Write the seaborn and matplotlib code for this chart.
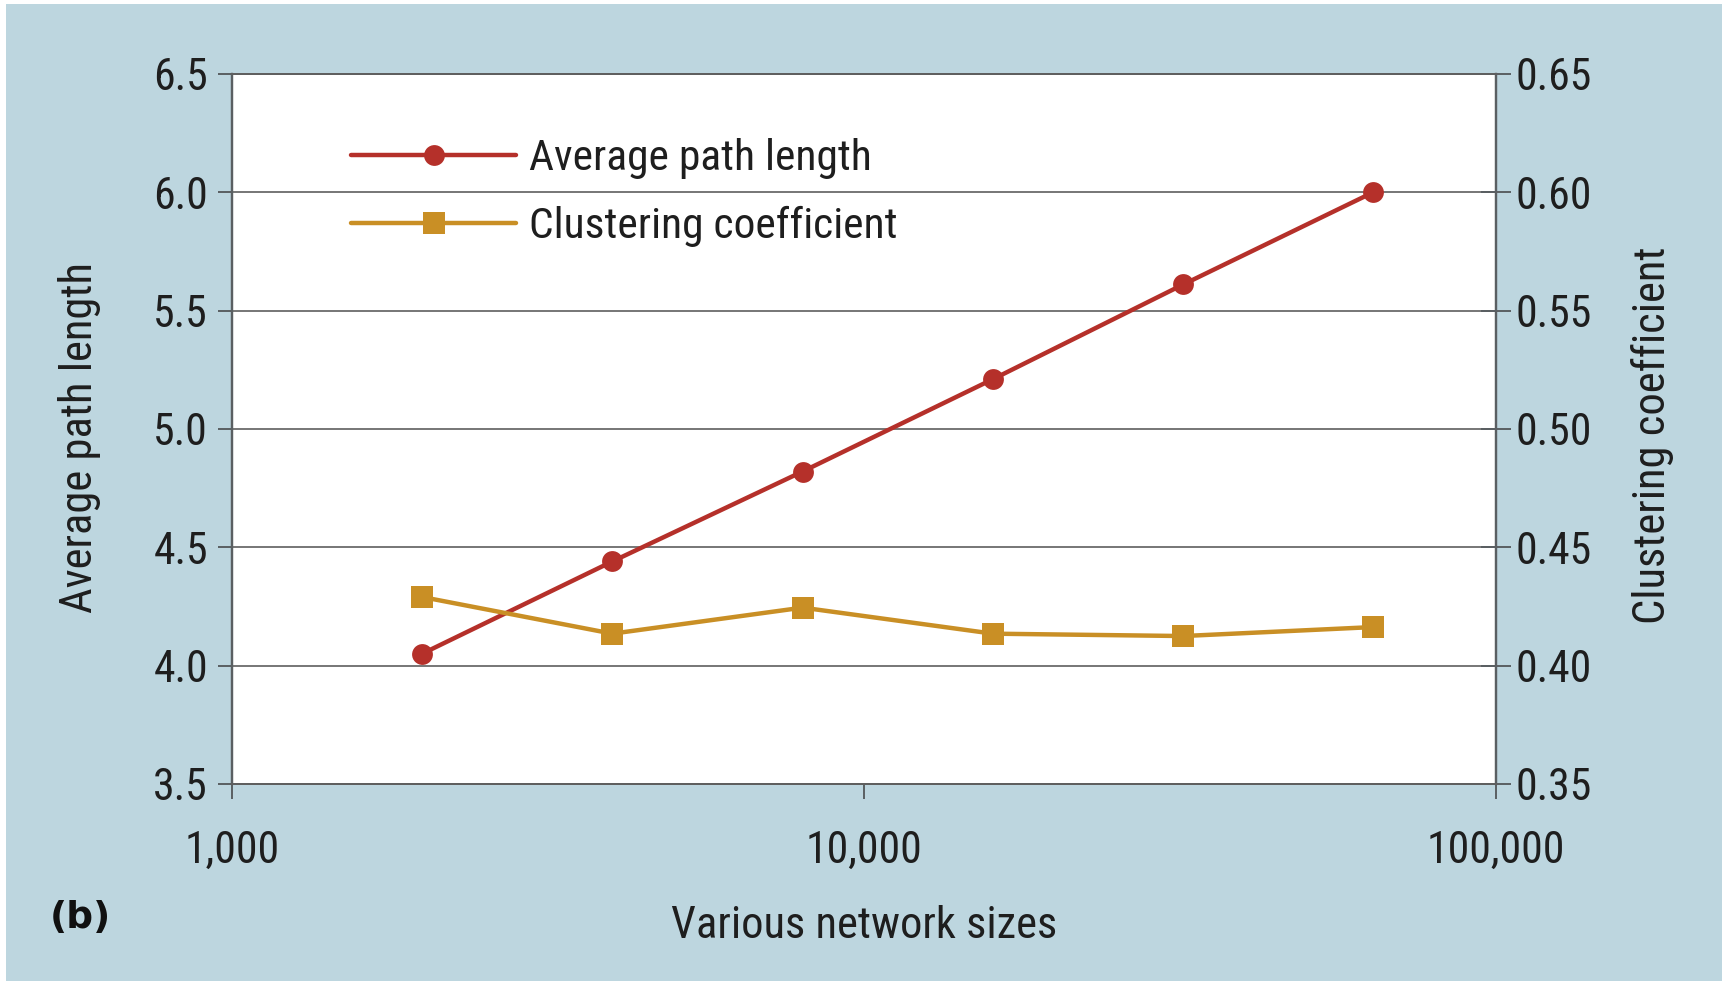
import matplotlib
matplotlib.use("Agg")
import matplotlib.pyplot as plt
from matplotlib import font_manager
from matplotlib.patches import Rectangle
from matplotlib.ticker import FixedLocator, FuncFormatter
import pandas as pd
import seaborn as sns

# Network sizes and the measured metrics
network_sizes = [2000, 4000, 8000, 16000, 32000, 64000]
avg_path_length = [4.05, 4.44, 4.82, 5.21, 5.61, 6.00]
clustering_coef = [0.429, 0.4135, 0.4245, 0.4135, 0.4125, 0.4163]

left_ticks = [3.5, 4.0, 4.5, 5.0, 5.5, 6.0, 6.5]
right_ticks = [0.35, 0.40, 0.45, 0.50, 0.55, 0.60, 0.65]
x_ticks = [1000, 10000, 100000]

df = pd.DataFrame({"size": network_sizes,
                   "apl": avg_path_length,
                   "cc": clustering_coef})

sns.set_theme(style="white")

# Prefer a narrow sans face
available = {f.name for f in font_manager.fontManager.ttflist}
family = "DejaVu Sans"
for cand in ["Liberation Sans Narrow", "Roboto Condensed", "DejaVu Sans Condensed", "Roboto"]:
    if cand in available:
        family = cand
        break
plt.rcParams["font.family"] = [family, "DejaVu Sans"]

RED = "#b5302a"
GOLD = "#c98f25"
BG = "#bdd6df"
TXT = "#1e1e1e"
AXC = "#5a5f62"

TICK_FS = 31.5
LABEL_FS = 32

fig = plt.figure(figsize=(17.28, 9.81), dpi=100, facecolor="white")
fig.patches.append(Rectangle((6 / 1728, 0), (1722 - 6) / 1728, 1 - 4 / 981,
                             transform=fig.transFigure, facecolor=BG,
                             edgecolor="none", zorder=-10))

ax = fig.add_axes([231.7 / 1728, 1 - 784 / 981, (1496 - 231.7) / 1728, (784 - 73.8) / 981])
ax.set_facecolor("white")
ax2 = ax.twinx()

sns.lineplot(data=df, x="size", y="apl", ax=ax, color=RED, lw=3.2,
             marker="o", markersize=15, markeredgewidth=0, label="Average path length",
             legend=False)
sns.lineplot(data=df, x="size", y="cc", ax=ax2, color=GOLD, lw=3.2,
             marker="s", markersize=15.5, markeredgewidth=0, label="Clustering coefficient",
             legend=False)

ax.set_xscale("log")
ax.set_xlim(1000, 100000)
ax.set_ylim(3.5, 6.5)
ax2.set_ylim(0.35, 0.65)

ax.xaxis.set_major_locator(FixedLocator(x_ticks))
ax.xaxis.set_minor_locator(FixedLocator([]))
ax.xaxis.set_major_formatter(FuncFormatter(lambda v, p: f"{int(v):,}"))
ax.set_yticks(left_ticks)
ax.set_yticklabels([f"{v:.1f}" for v in left_ticks])
ax2.set_yticks(right_ticks)
ax2.set_yticklabels([f"{v:.2f}" for v in right_ticks])

ax.yaxis.grid(True, color="#6b6b6b", lw=1.3)
ax.xaxis.grid(False)
ax.set_axisbelow(True)

for a in (ax, ax2):
    for s in a.spines.values():
        s.set_color(AXC)
        s.set_linewidth(1.6)
    a.spines["top"].set_linewidth(1.4)
    a.spines["top"].set_color("#5f5f5f")
    a.spines["bottom"].set_linewidth(1.4)
    a.spines["bottom"].set_color("#5f5f5f")

ax.tick_params(axis="y", which="major", direction="out", length=10, width=1.4,
               color=AXC, labelsize=TICK_FS, labelcolor=TXT, pad=7, left=True)
ax.tick_params(axis="x", which="major", direction="out", length=11, width=1.4,
               color=AXC, labelsize=TICK_FS, labelcolor=TXT, pad=22, bottom=True)
ax2.tick_params(axis="y", which="major", direction="inout", length=22, width=1.4,
                color=AXC, labelsize=TICK_FS, labelcolor=TXT, pad=3, right=True)

ax.set_xlabel("Various network sizes", fontsize=LABEL_FS, color=TXT, labelpad=24)
ax.set_ylabel("Average path length", fontsize=LABEL_FS, color=TXT)
ax2.set_ylabel("Clustering coefficient", fontsize=LABEL_FS, color=TXT)
ax.yaxis.set_label_coords(-0.103, 0.488)
ax2.yaxis.set_label_coords(1.107, 0.491)

h1, l1 = ax.get_legend_handles_labels()
h2, l2 = ax2.get_legend_handles_labels()
ax2.legend(h1 + h2, l1 + l2, loc="upper left", bbox_to_anchor=(0.0946, 0.910),
           frameon=False, fontsize=31.3, handlelength=3.8, handletextpad=0.28,
           labelspacing=0.62, borderaxespad=0, borderpad=0, labelcolor=TXT)

fig.text(50 / 1728, 1 - 918 / 981, "(b)", fontsize=27, fontweight="bold",
         family="DejaVu Sans", color="#111111", va="center", ha="left")

fig.savefig("out.png", dpi=100, facecolor=fig.get_facecolor())
